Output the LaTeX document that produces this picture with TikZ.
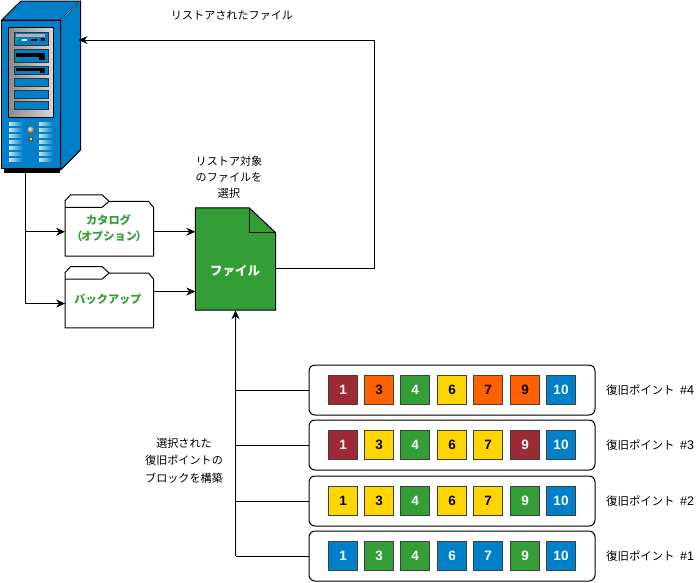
\documentclass[tikz,border=0pt]{standalone}
\usepackage{fontspec}
\setmainfont{Liberation Sans}
\newfontfamily\cjk{Noto Sans CJK JP}
\usetikzlibrary{arrows.meta}
\definecolor{srvblue}{HTML}{0080C8}
\definecolor{pgreen}{HTML}{339E35}
\definecolor{pred}{HTML}{9E2A35}
\definecolor{porange}{HTML}{FF6000}
\definecolor{pyellow}{HTML}{FFD500}
\tikzset{
  >={Stealth[length=9pt,width=8pt]},
  line/.style={line width=1pt},
  folderbody/.style={minimum width=88pt,minimum height=48.5pt,inner sep=0pt},
  rowbox/.style={draw,rounded corners=6pt,line width=1pt,fill=white,minimum width=286pt,minimum height=50pt,inner sep=0pt},
  block/.style={draw=black!75,line width=0.8pt,minimum size=29pt,inner sep=0pt,font=\bfseries\fontsize{13.5}{15}\selectfont},
  blue/.style={block,fill=srvblue,text=white},
  green/.style={block,fill=pgreen,text=white},
  red/.style={block,fill=pred,text=white},
  orange/.style={block,fill=porange,text=black},
  yellow/.style={block,fill=pyellow,text=black},
  txt/.style={font=\cjk\fontsize{11.1}{16}\selectfont,align=center,inner sep=0pt},
  foldertxt/.style={font=\cjk\bfseries\fontsize{11.2}{16}\selectfont,align=center,inner sep=0pt,text=pgreen},
  bay/.style={draw=black!80,line width=0.8pt,fill=srvblue},
  vent/.style={left color=white!80!srvblue,right color=srvblue,draw=none}
}
\begin{document}
\begin{tikzpicture}[x=1pt,y=-1pt]
  \useasboundingbox (0,0) rectangle (696,582);
  % server
  \fill[black] (4,166) rectangle (60,172.5);
  \draw[line,fill=srvblue,line join=round] (1.7,20) -- (21,1) -- (80.5,1) -- (60.7,20) -- cycle;
  \draw[line,fill=srvblue,line join=round] (60.7,20) -- (80.5,1) -- (80.5,150) -- (60.7,170) -- cycle;
  \draw[white!45!srvblue,line width=0.5pt] (60.7,20) -- (80,1.5);
  \draw[line,fill=srvblue] (1.7,20) rectangle (60.7,168);
  \draw[line,left color=black!45,right color=black!15] (8.5,27) rectangle (53.5,117);
  \draw[bay] (14,32) rectangle (48,45.5);
  \draw[bay] (14,49) rectangle (48,62);
  \draw[bay] (14,66) rectangle (48,74);
  \draw[bay] (14,78) rectangle (48,86);
  \draw[bay] (14,90) rectangle (48,98);
  \draw[bay] (14,101) rectangle (48,109);
  \fill[black!30] (16,34) rectangle (45,37);
  \fill[black] (41,38) rectangle (45,41);
  \fill[white] (22,39) rectangle (27,40.5);
  \fill[black] (31,38.5) rectangle (37,41);
  \fill[green!80!black] (16,38) rectangle (19,39.5);
  \fill[black] (16,53) rectangle (45,57);
  \fill[black] (39,57) rectangle (45,60);
  \fill[green!80!black] (16,58.5) rectangle (19,60);
  \fill[black] (16,68) rectangle (45,70.5);
  \fill[black] (40,70.5) rectangle (45,73);
  \foreach \vy in {124,130,136,142,148,154,160}{
    \fill[vent] (9,\vy-1.2) rectangle (23,\vy+1.2);
    \fill[vent] (39,\vy-1.2) rectangle (53,\vy+1.2);
  }
  \shade[ball color=black!30] (31,130) circle (4pt);
  \fill[yellow] (31,139) circle (2pt);
  \coordinate (srvout) at (25,172.5);
  \coordinate (srvin) at (78.5,40);
  % folders
  \node[folderbody] (catalog) at (109.3,231.75) {};
  \node[folderbody] (backup) at (109.3,303.5) {};
  \foreach \f in {catalog,backup}{
    \draw[line,fill=white,line join=round] (\f.south west) -- ([yshift=6.5pt]\f.north west)
      -- ([xshift=5.5pt,yshift=12.5pt]\f.north west) -- ([xshift=37pt,yshift=12.5pt]\f.north west)
      -- ([xshift=44pt,yshift=6pt]\f.north west) -- ([xshift=-5pt,yshift=6pt]\f.north east)
      -- (\f.north east) -- (\f.south east) -- cycle;
    \draw[line] (\f.north west) -- ([xshift=37pt]\f.north west) -- ([xshift=44pt,yshift=6pt]\f.north west);
  }
  \node[foldertxt] at (108.5,220) {カタログ};
  \node[foldertxt] at (109,236) {（\kern-1.5pt オプション\kern-1.5pt ）};
  \node[foldertxt] at (108,299) {バックアップ};
  % file
  \node[inner sep=0pt,minimum width=80pt,minimum height=102pt] (file) at (235.5,259) {};
  \draw[line,fill=pgreen,line join=round] (file.north west) -- ([xshift=-26.5pt]file.north east)
    -- ([yshift=-25pt]file.north east) -- (file.south east) -- (file.south west) -- cycle;
  \draw[line] ([xshift=-26.5pt]file.north east) -- ([xshift=-26.5pt,yshift=-25pt]file.north east) -- ([yshift=-25pt]file.north east);
  \node[txt,font=\cjk\bfseries\fontsize{12.5}{14}\selectfont,text=white] at (235,271) {ファイル};
  % labels
  \node[txt] at (232,16) {リストアされたファイル};
  \node[txt] at (229,177) {リストア対象\\のファイルを\\選択};
  \node[txt,font=\cjk\fontsize{11.1}{17.5}\selectfont] at (184,460.5) {選択された\\復旧ポイントの\\ブロックを構築};
  % rows
  \foreach \row/\ry in {4/390,3/445,2/501,1/556}{
    \node[rowbox] (row\row) at (452,\ry) {};
    \node[txt,font=\cjk\fontsize{11.4}{16}\selectfont,anchor=west] (lab\row) at (606,\ry) {復旧ポイント\kern3pt\ \fontspec{Liberation Sans}\fontsize{12.5}{16}\selectfont\#\row};
  }
  \foreach \n/\bx/\st in {1/343/red,3/379/orange,4/415/green,6/452/yellow,7/488/orange,9/525/orange,10/561/blue}
    \node[\st] (a\n) at (\bx,390) {\n};
  \foreach \n/\bx/\st in {1/343/red,3/379/yellow,4/415/green,6/452/yellow,7/488/yellow,9/525/red,10/561/blue}
    \node[\st] (b\n) at (\bx,445) {\n};
  \foreach \n/\bx/\st in {1/343/yellow,3/379/yellow,4/415/green,6/452/yellow,7/488/yellow,9/525/green,10/561/blue}
    \node[\st] (c\n) at (\bx,501) {\n};
  \foreach \n/\bx/\st in {1/343/blue,3/379/green,4/415/green,6/452/blue,7/488/blue,9/525/green,10/561/blue}
    \node[\st] (d\n) at (\bx,556) {\n};
  % connectors
  \draw[line] (srvout) -- (srvout |- backup.west);
  \draw[line,->] (srvout |- catalog.west) -- (catalog.west);
  \draw[line,->] (srvout |- backup.west) -- (backup.west);
  \draw[line,->] (catalog.east) -- (catalog.east -| file.west);
  \draw[line,->] ([yshift=12pt]backup.east) -- ([yshift=12pt]backup.east -| file.west);
  \draw[line,->] ([yshift=-9pt]file.east) -- (374,268) -- (374,40) -- (srvin);
  \draw[line,->] (file.south |- row1.west) -- (file.south);
  \foreach \row in {1,2,3,4}
    \draw[line] (row\row.west) -- (row\row.west -| file.south);
\end{tikzpicture}
\end{document}
